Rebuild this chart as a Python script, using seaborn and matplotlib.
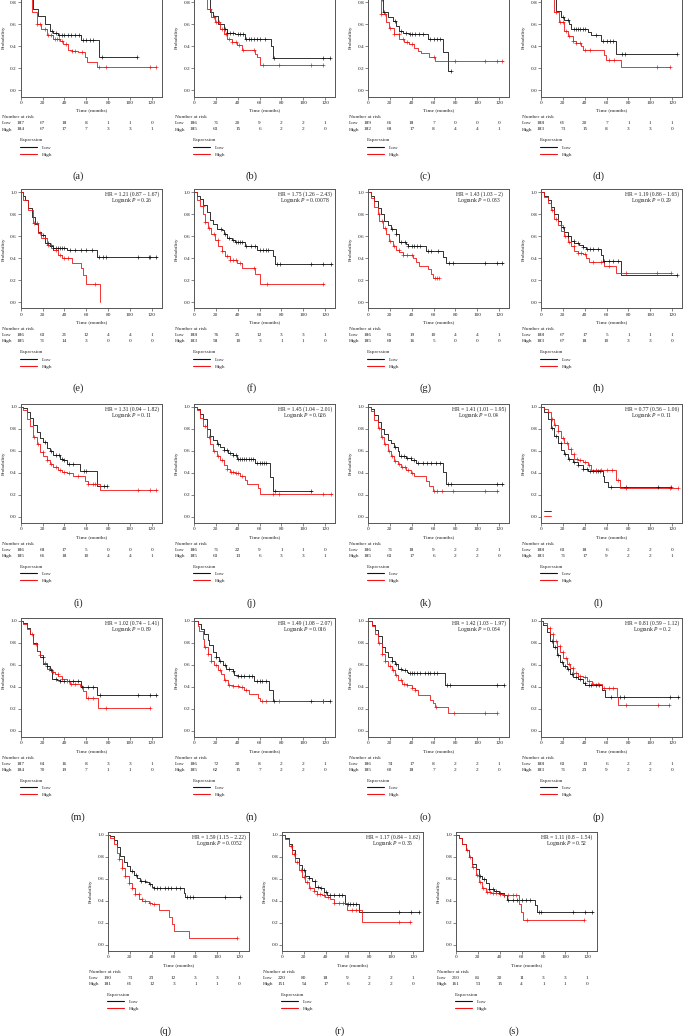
import numpy as np
import matplotlib
matplotlib.use("Agg")
import matplotlib.pyplot as plt
from matplotlib.lines import Line2D
import seaborn as sns

# ---------------- data ----------------
TIME_TICKS = [0, 20, 40, 60, 80, 100, 120]
PROB_TICKS = [0.0, 0.2, 0.4, 0.6, 0.8, 1.0]
GROUPS = ["Low", "High"]

# (a)
A_LOW_T = [0, 2, 4, 7, 11.6, 16, 22, 27, 30, 34.5, 55, 72, 106]
A_LOW_S = [1.0, 0.96, 0.9, 0.83, 0.74, 0.68, 0.60, 0.54, 0.525, 0.505, 0.455, 0.30, 0.30]
A_LOW_C = [29, 32, 35, 38, 40, 43, 46, 50, 53, 57, 60, 63, 66, 74, 106]
A_HIGH_T = [0, 2, 4, 6.4, 10, 14.7, 19, 24, 30, 36, 39, 43.7, 46.7, 52.8, 59, 61, 70, 124]
A_HIGH_S = [1.0, 0.95, 0.9, 0.83, 0.71, 0.60, 0.56, 0.50, 0.465, 0.45, 0.42, 0.37, 0.355, 0.35, 0.30, 0.26, 0.215, 0.215]
A_HIGH_C = [15, 18, 22, 25, 28, 31, 33, 35, 38, 41, 47, 50, 56, 72, 78, 118, 124]
A_RISK_LOW = [187, 67, 18, 8, 1, 1, 0]
A_RISK_HIGH = [184, 67, 17, 7, 3, 3, 1]

# (b)
B_LOW_T = [0, 3, 6, 8.5, 14.7, 17.7, 22, 27, 30, 37.5, 46.7, 70, 72.7, 124.6]
B_LOW_S = [1.0, 0.95, 0.9, 0.83, 0.71, 0.68, 0.60, 0.56, 0.525, 0.51, 0.47, 0.40, 0.295, 0.295]
B_LOW_C = [28, 30, 33, 36, 40, 42, 45, 48, 50, 52, 55, 58, 60, 65, 73, 118, 124]
B_HIGH_T = [0, 2.5, 5, 7, 11.6, 16, 19, 24, 27, 30, 34.5, 39, 43.7, 56, 58, 60.5, 118]
B_HIGH_S = [1.0, 0.95, 0.9, 0.83, 0.74, 0.665, 0.62, 0.56, 0.51, 0.465, 0.44, 0.41, 0.37, 0.33, 0.30, 0.23, 0.23]
B_HIGH_C = [15, 18, 20, 23, 26, 29, 32, 35, 38, 41, 45, 55, 63, 78, 107, 118]
B_RISK_LOW = [186, 71, 20, 9, 2, 2, 1]
B_RISK_HIGH = [185, 63, 15, 6, 2, 2, 0]

# (c)
C_LOW_T = [0, 3, 6, 8.9, 13.5, 18, 22.6, 25.7, 28.7, 31.8, 37.9, 54.7, 68.5, 73, 76]
C_LOW_S = [1.0, 0.95, 0.9, 0.83, 0.71, 0.665, 0.635, 0.59, 0.54, 0.525, 0.51, 0.465, 0.35, 0.175, 0.175]
C_LOW_C = [13, 15, 25, 30, 35, 38, 40, 43, 47, 50, 57, 60, 63, 66, 76]
C_HIGH_T = [0, 2.5, 5, 7.3, 12, 16.5, 19.6, 24, 28.7, 33.3, 37.9, 42.5, 45.6, 48.6, 56, 61, 123.5]
C_HIGH_S = [1.0, 0.95, 0.9, 0.83, 0.695, 0.62, 0.57, 0.51, 0.47, 0.44, 0.42, 0.39, 0.355, 0.34, 0.30, 0.265, 0.265]
C_HIGH_C = [12, 16, 20, 24, 28, 32, 36, 40, 60, 80, 107, 118, 123]
C_RISK_LOW = [189, 66, 18, 7, 0, 0, 0]
C_RISK_HIGH = [182, 68, 17, 8, 4, 4, 1]

# (d)
D_LOW_T = [0, 3, 6, 9, 13.8, 18.3, 21.4, 26, 27.5, 42.8, 46, 55, 68.8, 124]
D_LOW_S = [1.0, 0.95, 0.9, 0.83, 0.725, 0.665, 0.64, 0.60, 0.56, 0.53, 0.50, 0.45, 0.335, 0.335]
D_LOW_C = [20, 25, 30, 32, 34, 36, 38, 40, 50, 57, 60, 63, 66, 74, 77, 124]
D_HIGH_T = [0, 2.5, 5, 7.6, 12.2, 16.8, 21.4, 24.5, 29, 32, 36.7, 38.2, 58, 59.6, 73.4, 118]
D_HIGH_S = [1.0, 0.95, 0.9, 0.83, 0.71, 0.62, 0.54, 0.495, 0.45, 0.43, 0.40, 0.365, 0.32, 0.28, 0.21, 0.21]
D_HIGH_C = [14, 17, 20, 23, 26, 29, 32, 36, 40, 45, 62, 67, 106, 118]
D_RISK_LOW = [188, 61, 20, 7, 1, 1, 1]
D_RISK_HIGH = [183, 73, 15, 8, 3, 3, 0]

# (e)
E_LOW_T = [0, 2, 4, 7, 10, 13, 16, 19, 22.3, 27, 30, 42, 69.6, 124.6]
E_LOW_S = [1.0, 0.97, 0.93, 0.86, 0.78, 0.71, 0.645, 0.615, 0.54, 0.51, 0.495, 0.475, 0.415, 0.415]
E_LOW_C = [20, 25, 28, 30, 32, 34, 36, 38, 40, 45, 50, 55, 60, 65, 72, 75, 78, 107, 117, 118, 124]
E_HIGH_T = [0, 2.4, 7, 11.6, 16, 19, 24, 30, 34.5, 37.5, 46.7, 55, 57.4, 60, 72.7]
E_HIGH_S = [1.0, 0.93, 0.84, 0.72, 0.63, 0.585, 0.525, 0.48, 0.435, 0.40, 0.36, 0.31, 0.25, 0.17, 0.0]
E_HIGH_C = [12, 15, 18, 22, 25, 28, 32, 36, 40, 43, 68]
E_RISK_LOW = [186, 63, 21, 12, 4, 4, 1]
E_RISK_HIGH = [185, 71, 14, 3, 0, 0, 0]
E_HR = "HR = 1.21 (0.87 \u2013 1.67)"
E_P = "0.26"

# (f)
F_LOW_T = [0, 2.4, 5.5, 8.6, 11.6, 14.7, 17.7, 20.8, 25.3, 27, 30, 34.5, 37.5, 46.7, 57.4, 72, 74, 126]
F_LOW_S = [1.0, 0.97, 0.94, 0.89, 0.82, 0.75, 0.71, 0.67, 0.66, 0.62, 0.585, 0.57, 0.55, 0.515, 0.48, 0.42, 0.35, 0.35]
F_LOW_C = [25, 28, 32, 36, 38, 40, 42, 44, 48, 52, 56, 60, 63, 66, 68, 76, 79, 107, 118, 125]
F_HIGH_T = [0, 2.4, 5.5, 8.6, 10, 13, 16, 19, 22.3, 25.3, 28.4, 33, 39, 43.7, 56, 60, 118.5]
F_HIGH_S = [1.0, 0.93, 0.88, 0.80, 0.73, 0.68, 0.62, 0.57, 0.51, 0.47, 0.42, 0.39, 0.36, 0.31, 0.26, 0.165, 0.165]
F_HIGH_C = [8, 10, 14, 18, 22, 26, 30, 33, 36, 38, 42, 55, 67, 118]
F_RISK_LOW = [188, 76, 25, 12, 3, 3, 1]
F_RISK_HIGH = [183, 58, 10, 3, 1, 1, 0]
F_HR = "HR = 1.75 (1.26 \u2013 2.43)"
F_P = "0.00078"

# (g)
G_LOW_T = [0, 2.7, 5.8, 8.9, 12, 15, 18, 21, 25.7, 28.7, 34.9, 36.4, 53, 68.5, 71.6, 123.5]
G_LOW_S = [1.0, 0.97, 0.92, 0.86, 0.80, 0.74, 0.70, 0.67, 0.62, 0.55, 0.53, 0.51, 0.47, 0.41, 0.355, 0.355]
G_LOW_C = [22, 26, 30, 34, 37, 40, 42, 45, 48, 55, 58, 64, 74, 78, 107, 118, 123]
G_HIGH_T = [0, 2.7, 5.8, 8.9, 10.4, 13.5, 16.5, 19.6, 22.6, 25.7, 28.7, 31.8, 41, 44, 47, 54.7, 57.8, 59.3, 65]
G_HIGH_S = [1.0, 0.95, 0.87, 0.80, 0.74, 0.68, 0.62, 0.56, 0.51, 0.48, 0.455, 0.43, 0.40, 0.37, 0.335, 0.30, 0.26, 0.22, 0.22]
G_HIGH_C = [10, 13, 16, 20, 24, 28, 32, 36, 40, 61, 63, 65]
G_RISK_LOW = [186, 65, 19, 10, 4, 4, 1]
G_RISK_HIGH = [185, 69, 16, 5, 0, 0, 0]
G_HR = "HR = 1.43 (1.03 \u2013 2)"
G_P = "0.033"

# (h)
H_LOW_T = [0, 3, 6.1, 9.2, 12.2, 15.3, 18.3, 21.4, 24.5, 27.5, 30.6, 35, 38, 41, 55, 56.6, 73.4, 124]
H_LOW_S = [1.0, 0.97, 0.93, 0.87, 0.80, 0.74, 0.69, 0.64, 0.60, 0.56, 0.54, 0.52, 0.50, 0.49, 0.43, 0.38, 0.25, 0.25]
H_LOW_C = [20, 25, 30, 34, 38, 42, 45, 48, 52, 58, 62, 66, 70, 124]
H_HIGH_T = [0, 3, 6.1, 9.2, 12.2, 15.3, 18.3, 21.4, 24.5, 27.5, 30.6, 33.6, 38, 41, 44, 58, 68.8, 119]
H_HIGH_S = [1.0, 0.96, 0.90, 0.84, 0.76, 0.70, 0.65, 0.60, 0.55, 0.51, 0.47, 0.45, 0.44, 0.40, 0.37, 0.33, 0.27, 0.27]
H_HIGH_C = [10, 14, 18, 22, 26, 30, 34, 37, 40, 48, 55, 62, 78, 106, 119]
H_RISK_LOW = [188, 67, 17, 5, 1, 1, 1]
H_RISK_HIGH = [183, 67, 18, 10, 3, 3, 0]
H_HR = "HR = 1.19 (0.86 \u2013 1.65)"
H_P = "0.29"

# (i)
I_LOW_T = [0, 2.4, 5.5, 8.5, 11.6, 14.7, 17.7, 20.8, 23.8, 27, 30, 36, 39, 42, 54.4, 69.6, 79]
I_LOW_S = [1.0, 0.99, 0.95, 0.90, 0.84, 0.77, 0.72, 0.68, 0.63, 0.60, 0.56, 0.53, 0.515, 0.48, 0.42, 0.28, 0.28]
I_LOW_C = [22, 28, 32, 35, 38, 40, 44, 48, 58, 60, 76, 79]
I_HIGH_T = [0, 2.4, 5.5, 8.5, 11.6, 14.7, 17.7, 20.8, 23.8, 27, 30, 34.5, 37.5, 42, 48.2, 59, 62, 72.7, 124.6]
I_HIGH_S = [1.0, 0.97, 0.89, 0.83, 0.73, 0.66, 0.59, 0.55, 0.52, 0.48, 0.45, 0.43, 0.41, 0.40, 0.37, 0.33, 0.30, 0.245, 0.245]
I_HIGH_C = [12, 16, 20, 24, 28, 32, 36, 40, 44, 52, 62, 66, 68, 107, 118, 124]
I_RISK_LOW = [186, 68, 17, 5, 0, 0, 0]
I_RISK_HIGH = [185, 66, 18, 10, 4, 4, 1]
I_HR = "HR = 1.31 (0.94 \u2013 1.82)"
I_P = "0.11"

# (j)
J_LOW_T = [0, 2.4, 5.5, 8.6, 11.6, 14.7, 17.7, 20.8, 23.8, 27, 31.5, 36, 39, 56, 69.6, 72.7, 108]
J_LOW_S = [1.0, 0.98, 0.94, 0.89, 0.80, 0.74, 0.70, 0.66, 0.64, 0.61, 0.58, 0.56, 0.53, 0.49, 0.36, 0.24, 0.24]
J_LOW_C = [22, 27, 30, 33, 36, 38, 40, 42, 44, 46, 48, 50, 52, 54, 58, 60, 62, 64, 66, 74, 107]
J_HIGH_T = [0, 2.4, 5.5, 8.6, 11.6, 14.7, 17.7, 20.8, 23.8, 27, 30, 33, 37.6, 42, 46.7, 48.3, 58.4, 60.5, 126]
J_HIGH_S = [1.0, 0.97, 0.90, 0.83, 0.73, 0.66, 0.60, 0.55, 0.52, 0.47, 0.44, 0.41, 0.40, 0.375, 0.34, 0.30, 0.26, 0.21, 0.21]
J_HIGH_C = [10, 14, 18, 22, 26, 30, 34, 36, 38, 40, 44, 72, 78, 118, 125]
J_RISK_LOW = [186, 71, 22, 9, 1, 1, 0]
J_RISK_HIGH = [185, 63, 13, 6, 3, 3, 1]
J_HR = "HR = 1.45 (1.04 \u2013 2.01)"
J_P = "0.026"

# (k)
K_LOW_T = [0, 2.7, 5.8, 8.9, 12, 15, 18, 21, 24, 27.2, 28.7, 34.8, 39.4, 44, 68.5, 71.6, 123.5]
K_LOW_S = [1.0, 0.98, 0.93, 0.86, 0.80, 0.75, 0.70, 0.67, 0.64, 0.60, 0.55, 0.54, 0.52, 0.49, 0.41, 0.30, 0.30]
K_LOW_C = [25, 30, 33, 36, 39, 42, 46, 50, 54, 58, 62, 66, 73, 76, 118, 123]
K_HIGH_T = [0, 2.7, 5.8, 8.9, 12, 15, 18, 21, 24, 27.2, 30.3, 34.8, 39.4, 42.5, 53, 56, 59.3, 119]
K_HIGH_S = [1.0, 0.96, 0.88, 0.81, 0.73, 0.66, 0.60, 0.55, 0.51, 0.48, 0.45, 0.43, 0.40, 0.37, 0.33, 0.28, 0.235, 0.235]
K_HIGH_C = [10, 13, 16, 19, 22, 25, 28, 31, 34, 37, 40, 60, 63, 68, 78, 107, 118]
K_RISK_LOW = [186, 71, 18, 9, 2, 2, 1]
K_RISK_HIGH = [185, 63, 17, 6, 2, 2, 0]
K_HR = "HR = 1.41 (1.01 \u2013 1.95)"
K_P = "0.04"

# (l)
L_LOW_T = [0, 3, 6.1, 9.2, 12.2, 15.3, 18.3, 21.4, 24.5, 29, 33.6, 38, 42.8, 56.6, 58, 61, 119]
L_LOW_S = [1.0, 0.95, 0.89, 0.81, 0.74, 0.67, 0.61, 0.57, 0.53, 0.50, 0.47, 0.44, 0.42, 0.37, 0.32, 0.275, 0.275]
L_LOW_C = [10, 14, 18, 22, 26, 30, 34, 38, 42, 45, 48, 50, 52, 54, 64, 78, 107, 119]
L_HIGH_T = [0, 3, 6.1, 9.2, 12.2, 15.3, 18.3, 21.4, 24.5, 27.5, 30.6, 33.6, 38, 42.8, 46, 68.8, 71.9, 125]
L_HIGH_S = [1.0, 0.98, 0.95, 0.89, 0.84, 0.78, 0.72, 0.67, 0.62, 0.57, 0.53, 0.52, 0.50, 0.47, 0.43, 0.34, 0.26, 0.26]
L_HIGH_C = [10, 13, 16, 20, 24, 27, 30, 33, 36, 40, 44, 50, 55, 60, 65, 70, 78, 118, 125]
L_RISK_LOW = [188, 63, 18, 6, 2, 2, 0]
L_RISK_HIGH = [183, 71, 17, 9, 2, 2, 1]
L_HR = "HR = 0.77 (0.56 \u2013 1.06)"
L_P = "0.11"

# (m)
M_LOW_T = [0, 2.4, 5.5, 8.5, 11.6, 14.7, 17.7, 20.8, 23.8, 27, 28.4, 33, 36, 55, 69.6, 124.6]
M_LOW_S = [1.0, 0.98, 0.94, 0.88, 0.80, 0.73, 0.67, 0.61, 0.59, 0.55, 0.47, 0.46, 0.45, 0.40, 0.33, 0.33]
M_LOW_C = [20, 24, 28, 32, 36, 40, 44, 48, 52, 56, 62, 66, 73, 107, 118, 124]
M_HIGH_T = [0, 2.4, 5.5, 8.5, 11.6, 14.7, 17.7, 20.8, 23.8, 28.4, 31.5, 34.5, 37.6, 42, 45, 54.4, 57.4, 60, 71, 118.5]
M_HIGH_S = [1.0, 0.97, 0.93, 0.88, 0.79, 0.73, 0.69, 0.62, 0.56, 0.535, 0.52, 0.50, 0.47, 0.45, 0.43, 0.41, 0.36, 0.30, 0.205, 0.205]
M_HIGH_C = [10, 14, 18, 22, 26, 30, 34, 38, 42, 46, 50, 62, 66, 78, 118]
M_RISK_LOW = [187, 64, 16, 8, 3, 3, 1]
M_RISK_HIGH = [184, 70, 19, 7, 1, 1, 0]
M_HR = "HR = 1.02 (0.74 \u2013 1.41)"
M_P = "0.89"

# (n)
N_LOW_T = [0, 3.4, 6.4, 9.5, 12.5, 14, 17, 20, 23, 26.3, 29.3, 35.4, 37, 40, 55.3, 69, 72, 124]
N_LOW_S = [1.0, 0.97, 0.93, 0.88, 0.83, 0.78, 0.72, 0.67, 0.64, 0.60, 0.56, 0.545, 0.51, 0.50, 0.45, 0.37, 0.27, 0.27]
N_LOW_C = [20, 24, 28, 32, 36, 40, 43, 46, 50, 53, 58, 60, 62, 66, 73, 107, 118, 124]
N_HIGH_T = [0, 3.4, 4.9, 8, 9.5, 12.5, 15.6, 18.6, 21.7, 24.7, 27.8, 30.8, 35.4, 41.5, 46, 50.7, 58.3, 60, 119.4]
N_HIGH_S = [1.0, 0.95, 0.91, 0.84, 0.76, 0.70, 0.64, 0.60, 0.55, 0.52, 0.46, 0.42, 0.41, 0.40, 0.37, 0.34, 0.30, 0.27, 0.27]
N_HIGH_C = [10, 13, 16, 20, 24, 28, 32, 36, 40, 44, 48, 62, 66, 78, 118]
N_RISK_LOW = [186, 72, 20, 8, 2, 2, 1]
N_RISK_HIGH = [185, 62, 15, 7, 2, 2, 0]
N_HR = "HR = 1.49 (1.08 \u2013 2.07)"
N_P = "0.016"

# (o)
O_LOW_T = [0, 3.4, 6.4, 9.5, 12.5, 15.5, 18.6, 21.6, 24.7, 27.7, 30.8, 35.4, 37, 70.4, 124.7]
O_LOW_S = [1.0, 0.96, 0.92, 0.86, 0.76, 0.72, 0.67, 0.64, 0.61, 0.56, 0.55, 0.54, 0.525, 0.42, 0.42]
O_LOW_C = [22, 26, 30, 34, 38, 40, 42, 45, 48, 52, 55, 57, 60, 63, 72, 75, 118, 124]
O_HIGH_T = [0, 3.4, 6.4, 9.5, 12.5, 15.5, 18.6, 21.6, 24.7, 27.7, 30.8, 35.4, 40, 43, 46, 56.7, 59.8, 61.3, 73.5, 117.7]
O_HIGH_S = [1.0, 0.95, 0.88, 0.80, 0.70, 0.64, 0.59, 0.55, 0.51, 0.46, 0.43, 0.42, 0.39, 0.37, 0.33, 0.28, 0.25, 0.22, 0.165, 0.165]
O_HIGH_C = [10, 13, 16, 20, 23, 26, 30, 33, 36, 40, 43, 62, 79, 107, 118]
O_RISK_LOW = [186, 74, 17, 8, 2, 2, 1]
O_RISK_HIGH = [185, 60, 18, 7, 2, 2, 0]
O_HR = "HR = 1.42 (1.03 \u2013 1.97)"
O_P = "0.034"

# (p)
P_LOW_T = [0, 2.1, 5.2, 8.2, 11.3, 14.3, 17.4, 20.5, 23.5, 26.6, 29.6, 34, 38.8, 40.4, 55.6, 58.7, 125.8]
P_LOW_S = [1.0, 0.96, 0.90, 0.82, 0.76, 0.69, 0.63, 0.59, 0.56, 0.52, 0.49, 0.47, 0.44, 0.42, 0.37, 0.31, 0.31]
P_LOW_C = [10, 13, 16, 19, 22, 25, 28, 32, 36, 40, 44, 46, 50, 53, 64, 72, 76, 118, 125]
P_HIGH_T = [0, 2.1, 5.2, 8.2, 11.3, 14.3, 17.4, 20.5, 23.5, 26.6, 29.6, 34, 38.8, 41.8, 46.4, 55.6, 69.4, 70.9, 117]
P_HIGH_S = [1.0, 0.98, 0.94, 0.88, 0.82, 0.77, 0.72, 0.66, 0.61, 0.57, 0.53, 0.50, 0.49, 0.45, 0.43, 0.39, 0.31, 0.235, 0.235]
P_HIGH_C = [8, 11, 14, 17, 20, 23, 26, 29, 32, 36, 40, 44, 48, 52, 58, 62, 66, 78, 107, 117]
P_RISK_LOW = [188, 63, 13, 6, 2, 2, 1]
P_RISK_HIGH = [183, 71, 23, 9, 2, 2, 0]
P_HR = "HR = 0.81 (0.59 \u2013 1.12)"
P_P = "0.2"

# (q)
Q_LOW_T = [0, 2.1, 5.2, 8.2, 11.3, 14.4, 17.4, 20.5, 23.5, 26.6, 29.6, 34.2, 37.3, 40.3, 41.8, 69.3, 70.8, 121]
Q_LOW_S = [1.0, 0.99, 0.95, 0.89, 0.81, 0.75, 0.72, 0.67, 0.64, 0.61, 0.58, 0.57, 0.55, 0.53, 0.515, 0.47, 0.44, 0.44]
Q_LOW_C = [22, 26, 30, 34, 38, 42, 45, 48, 52, 55, 58, 62, 66, 72, 75, 78, 107, 121]
Q_HIGH_T = [0, 2.1, 5.2, 8.2, 9.8, 12.8, 15.9, 18.9, 22, 25, 28.1, 31.1, 37.3, 40.3, 46.4, 55.6, 58.6, 60.2, 73.9, 118]
Q_HIGH_S = [1.0, 0.97, 0.92, 0.84, 0.78, 0.70, 0.63, 0.56, 0.52, 0.46, 0.42, 0.40, 0.38, 0.37, 0.32, 0.25, 0.19, 0.13, 0.06, 0.06]
Q_HIGH_C = [10, 13, 16, 19, 22, 25, 28, 31, 34, 38, 42, 118]
Q_RISK_LOW = [190, 73, 23, 12, 3, 3, 1]
Q_RISK_HIGH = [181, 61, 12, 3, 1, 1, 0]
Q_HR = "HR = 1.59 (1.15 \u2013 2.22)"
Q_P = "0.0052"

# (r)
R_LOW_T = [0, 3, 6.1, 9.2, 12.2, 15.3, 18.3, 21.4, 24.4, 27.5, 30.5, 35.1, 38.2, 41.2, 58, 70.2, 125]
R_LOW_S = [1.0, 0.97, 0.92, 0.86, 0.79, 0.73, 0.68, 0.63, 0.61, 0.58, 0.53, 0.52, 0.48, 0.45, 0.37, 0.30, 0.30]
R_LOW_C = [20, 25, 30, 33, 36, 40, 44, 48, 52, 55, 60, 62, 65, 68, 107, 118, 125]
R_HIGH_T = [0, 3, 6.1, 9.2, 12.2, 15.3, 18.3, 21.4, 24.4, 29, 32, 36.6, 39.7, 44.3, 47.3, 59.5, 73.3, 117.6]
R_HIGH_S = [1.0, 0.96, 0.90, 0.83, 0.75, 0.68, 0.62, 0.57, 0.52, 0.49, 0.46, 0.45, 0.44, 0.42, 0.38, 0.32, 0.21, 0.21]
R_HIGH_C = [8, 11, 14, 17, 20, 23, 26, 29, 32, 35, 38, 42, 48, 52, 56, 64, 68, 107, 117]
R_RISK_LOW = [220, 80, 18, 9, 2, 2, 1]
R_RISK_HIGH = [151, 54, 17, 6, 2, 2, 0]
R_HR = "HR = 1.17 (0.84 \u2013 1.62)"
R_P = "0.35"

# (s)
S_LOW_T = [0, 2.7, 5.8, 8.9, 11.9, 15, 18, 21, 24, 27, 30, 34.8, 39.4, 44, 47, 72, 74.5, 125]
S_LOW_S = [1.0, 0.97, 0.92, 0.86, 0.80, 0.74, 0.69, 0.63, 0.60, 0.56, 0.51, 0.49, 0.47, 0.45, 0.41, 0.36, 0.30, 0.30]
S_LOW_C = [22, 26, 30, 34, 37, 40, 44, 48, 52, 56, 60, 64, 68, 76, 78, 107, 118, 124]
S_HIGH_T = [0, 2.7, 5.8, 8.9, 11.9, 15, 18, 21, 24, 27, 31.7, 39.4, 44, 57.7, 59.5, 61, 117]
S_HIGH_S = [1.0, 0.97, 0.92, 0.86, 0.80, 0.71, 0.64, 0.57, 0.52, 0.48, 0.47, 0.46, 0.45, 0.37, 0.30, 0.23, 0.23]
S_HIGH_C = [10, 13, 16, 19, 22, 25, 28, 31, 34, 37, 40, 44, 48, 52, 55, 65, 117]
S_RISK_LOW = [210, 81, 20, 11, 3, 3, 1]
S_RISK_HIGH = [161, 53, 15, 4, 1, 1, 0]
S_HR = "HR = 1.11 (0.8 \u2013 1.54)"
S_P = "0.52"

# ---------------- assemble panel table from the named arrays ----------------
PANELS = [
    ("a", (A_LOW_T, A_LOW_S, A_LOW_C), (A_HIGH_T, A_HIGH_S, A_HIGH_C), A_RISK_LOW, A_RISK_HIGH, None, None),
    ("b", (B_LOW_T, B_LOW_S, B_LOW_C), (B_HIGH_T, B_HIGH_S, B_HIGH_C), B_RISK_LOW, B_RISK_HIGH, None, None),
    ("c", (C_LOW_T, C_LOW_S, C_LOW_C), (C_HIGH_T, C_HIGH_S, C_HIGH_C), C_RISK_LOW, C_RISK_HIGH, None, None),
    ("d", (D_LOW_T, D_LOW_S, D_LOW_C), (D_HIGH_T, D_HIGH_S, D_HIGH_C), D_RISK_LOW, D_RISK_HIGH, None, None),
    ("e", (E_LOW_T, E_LOW_S, E_LOW_C), (E_HIGH_T, E_HIGH_S, E_HIGH_C), E_RISK_LOW, E_RISK_HIGH, E_HR, E_P),
    ("f", (F_LOW_T, F_LOW_S, F_LOW_C), (F_HIGH_T, F_HIGH_S, F_HIGH_C), F_RISK_LOW, F_RISK_HIGH, F_HR, F_P),
    ("g", (G_LOW_T, G_LOW_S, G_LOW_C), (G_HIGH_T, G_HIGH_S, G_HIGH_C), G_RISK_LOW, G_RISK_HIGH, G_HR, G_P),
    ("h", (H_LOW_T, H_LOW_S, H_LOW_C), (H_HIGH_T, H_HIGH_S, H_HIGH_C), H_RISK_LOW, H_RISK_HIGH, H_HR, H_P),
    ("i", (I_LOW_T, I_LOW_S, I_LOW_C), (I_HIGH_T, I_HIGH_S, I_HIGH_C), I_RISK_LOW, I_RISK_HIGH, I_HR, I_P),
    ("j", (J_LOW_T, J_LOW_S, J_LOW_C), (J_HIGH_T, J_HIGH_S, J_HIGH_C), J_RISK_LOW, J_RISK_HIGH, J_HR, J_P),
    ("k", (K_LOW_T, K_LOW_S, K_LOW_C), (K_HIGH_T, K_HIGH_S, K_HIGH_C), K_RISK_LOW, K_RISK_HIGH, K_HR, K_P),
    ("l", (L_LOW_T, L_LOW_S, L_LOW_C), (L_HIGH_T, L_HIGH_S, L_HIGH_C), L_RISK_LOW, L_RISK_HIGH, L_HR, L_P),
    ("m", (M_LOW_T, M_LOW_S, M_LOW_C), (M_HIGH_T, M_HIGH_S, M_HIGH_C), M_RISK_LOW, M_RISK_HIGH, M_HR, M_P),
    ("n", (N_LOW_T, N_LOW_S, N_LOW_C), (N_HIGH_T, N_HIGH_S, N_HIGH_C), N_RISK_LOW, N_RISK_HIGH, N_HR, N_P),
    ("o", (O_LOW_T, O_LOW_S, O_LOW_C), (O_HIGH_T, O_HIGH_S, O_HIGH_C), O_RISK_LOW, O_RISK_HIGH, O_HR, O_P),
    ("p", (P_LOW_T, P_LOW_S, P_LOW_C), (P_HIGH_T, P_HIGH_S, P_HIGH_C), P_RISK_LOW, P_RISK_HIGH, P_HR, P_P),
    ("q", (Q_LOW_T, Q_LOW_S, Q_LOW_C), (Q_HIGH_T, Q_HIGH_S, Q_HIGH_C), Q_RISK_LOW, Q_RISK_HIGH, Q_HR, Q_P),
    ("r", (R_LOW_T, R_LOW_S, R_LOW_C), (R_HIGH_T, R_HIGH_S, R_HIGH_C), R_RISK_LOW, R_RISK_HIGH, R_HR, R_P),
    ("s", (S_LOW_T, S_LOW_S, S_LOW_C), (S_HIGH_T, S_HIGH_S, S_HIGH_C), S_RISK_LOW, S_RISK_HIGH, S_HR, S_P),
]

# ---------------- style ----------------
sns.set_theme(style="ticks")
plt.rcParams["font.family"] = ["Liberation Serif", "DejaVu Serif"]
plt.rcParams["mathtext.fontset"] = "custom"
plt.rcParams["mathtext.rm"] = "Liberation Serif"
plt.rcParams["mathtext.it"] = "Liberation Serif:italic"
plt.rcParams["axes.unicode_minus"] = False

LOW_COLOR = "#111111"
HIGH_COLOR = "#f01414"
TXT = "#222222"
SMALL = 3.8
HRSIZE = 4.1
LABSIZE = 7.5

W, H = 684, 1036
AX_W, AX_H = 141, 119
ROW_TOPS = [-22.5, 189.5, 404, 618, 832]
COL_LEFTS = [20.7, 194, 368, 541]
ROW5_LEFTS = [108, 282, 456]

fig = plt.figure(figsize=(W / 100, H / 100), dpi=100)
fig.patch.set_facecolor("white")


def step_value(t, s, c):
    t = np.asarray(t, dtype=float)
    s = np.asarray(s, dtype=float)
    idx = np.clip(np.searchsorted(t, np.asarray(c, dtype=float), side="right") - 1, 0, len(s) - 1)
    return s[idx]


def draw_panel(left, top, panel):
    letter, low, high, risk_low, risk_high, hr, pval = panel
    ax = fig.add_axes([left / W, 1 - (top + AX_H) / H, AX_W / W, AX_H / H])
    for (t, s, c), col in ((low, LOW_COLOR), (high, HIGH_COLOR)):
        sns.lineplot(x=t, y=s, drawstyle="steps-post", estimator=None, sort=False,
                     color=col, linewidth=0.6, ax=ax)
        sns.scatterplot(x=c, y=step_value(t, s, c), marker="+", s=7, color=col,
                        linewidth=0.45, ax=ax, legend=False, zorder=3)
    ax.set_xlim(0, 129)
    ax.set_ylim(-0.055, 1.027)
    ax.set_xticks(TIME_TICKS)
    ax.set_yticks(PROB_TICKS)
    ax.yaxis.set_major_formatter("{x:.1f}")
    ax.set_xlabel("")
    ax.set_ylabel("")
    ax.tick_params(axis="both", labelsize=SMALL, length=2.0, width=0.45,
                   colors="#444444", labelcolor=TXT, direction="out")
    ax.tick_params(axis="y", pad=0.8)
    ax.tick_params(axis="x", pad=1.0)
    for sp in ax.spines.values():
        sp.set_visible(True)
        sp.set_linewidth(0.7)
        sp.set_color("#555555")

    tr = ax.transAxes
    ax.text(-17 / AX_W, 0.5, "Probability", rotation=90, ha="center", va="center",
            fontsize=SMALL, color=TXT, transform=tr)
    ax.text(0.5, -14 / AX_H, "Time (months)", ha="center", va="center",
            fontsize=SMALL, color=TXT, transform=tr)
    if hr is not None:
        cx = 1 - 30 / AX_W
        ax.text(cx, 1 - 5 / AX_H, hr, ha="center", va="center", fontsize=HRSIZE,
                color=TXT, transform=tr)
        ax.text(cx, 1 - 11.5 / AX_H, "Logrank $P$ = " + pval, ha="center", va="center",
                fontsize=HRSIZE, color=TXT, transform=tr)

    # number at risk table
    ax.text(-19 / AX_W, -21 / AX_H, "Number at risk", ha="left", va="center",
            fontsize=SMALL, color=TXT, transform=tr, clip_on=False)
    blend = ax.get_xaxis_transform()
    for dy, name, vals in ((27, GROUPS[0], risk_low), (33, GROUPS[1], risk_high)):
        ax.text(-19 / AX_W, -dy / AX_H, name, ha="left", va="center",
                fontsize=SMALL, color=TXT, transform=tr)
        for tk, v in zip(TIME_TICKS, vals):
            ax.text(tk, -dy / AX_H, str(v), ha="center", va="center",
                    fontsize=SMALL, color=TXT, transform=blend)

    # expression legend
    handles = [Line2D([], [], color=LOW_COLOR, lw=0.8), Line2D([], [], color=HIGH_COLOR, lw=0.8)]
    bottom = top + AX_H
    fig.legend(handles, GROUPS, title="Expression", loc="upper left",
               bbox_to_anchor=((left - 1) / W, 1 - (bottom + 42) / H),
               frameon=False, fontsize=SMALL, title_fontsize=SMALL,
               handlelength=3.2, handletextpad=0.9, labelspacing=0.45,
               borderpad=0, borderaxespad=0, alignment="left")

    # panel letter
    fig.text((left + AX_W / 2 - 13) / W, 1 - (bottom + 80) / H, f"({letter})",
             ha="center", va="center", fontsize=LABSIZE, color=TXT)
    return ax


axes = {}
for i, panel in enumerate(PANELS):
    if i < 16:
        r, c = divmod(i, 4)
        left = COL_LEFTS[c]
    else:
        r = 4
        left = ROW5_LEFTS[i - 16]
    axes[panel[0]] = draw_panel(left, ROW_TOPS[r], panel)

# stray legend glyphs visible in panel (l)
stray = [Line2D([], [], color=LOW_COLOR, lw=0.6), Line2D([], [], color=HIGH_COLOR, lw=0.6)]
axes["l"].legend(stray, ["", ""], loc="lower left", bbox_to_anchor=(0.02, 0.035),
                 frameon=False, fontsize=SMALL, handlelength=1.35, handletextpad=0,
                 labelspacing=0.0, borderpad=0, borderaxespad=0)

fig.savefig("out.png", dpi=100, facecolor="white")
